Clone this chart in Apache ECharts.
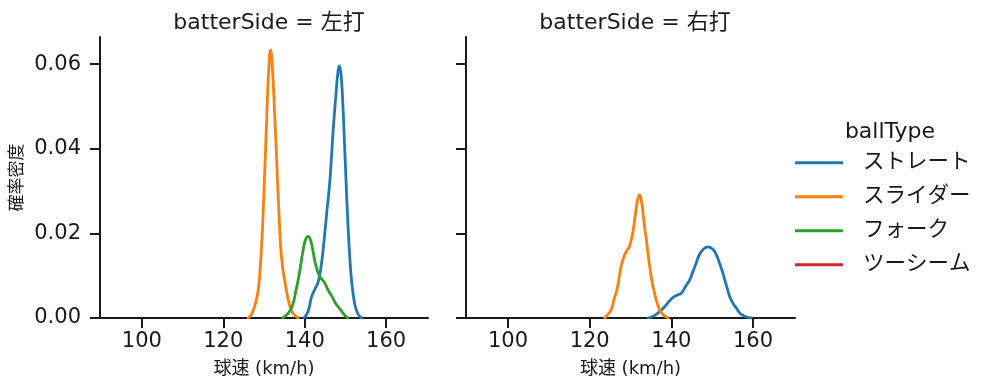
<!DOCTYPE html>
<html>
<head>
<meta charset="utf-8">
<script src="https://cdn.jsdelivr.net/npm/echarts@6/dist/echarts.min.js"></script>
<style>
html,body{margin:0;padding:0;background:#fff;}
#c{width:995px;height:391px;}
</style>
</head>
<body>
<div id="c"></div>
<script>
// ---- data ----
var ballTypes = ['ストレート', 'スライダー', 'フォーク', 'ツーシーム'];
var colors = ['#1f77b4', '#ff7f0e', '#2ca02c', '#d62728'];
var facets = ['batterSide = 左打', 'batterSide = 右打'];
var legendTitle = 'ballType';
var xName = '球速 (km/h)';
var yName = '確率密度';
var xTicks = [100, 120, 140, 160];
var yTicks = [0, 0.02, 0.04, 0.06];

// 左打
var leftStraight = [[139.8,0],[140.8,0.0015],[141.7,0.005],[142.5,0.0068],[143.3,0.0085],[144.0,0.012],[144.6,0.0168],[145.4,0.0247],[146.2,0.0326],[147.0,0.0444],[147.7,0.0530],[148.1,0.0575],[148.5,0.0596],[148.9,0.0578],[149.3,0.052],[149.9,0.0385],[150.3,0.029],[150.7,0.0208],[151.1,0.014],[151.5,0.009],[152.0,0.005],[152.5,0.0025],[153.2,0.0008],[154.0,0]];
var leftSlider = [[126.1,0],[126.8,0.0007],[127.4,0.0019],[128.0,0.0038],[128.6,0.0068],[129.0,0.011],[129.4,0.0168],[129.8,0.025],[130.1,0.0326],[130.4,0.040],[130.7,0.0484],[131.1,0.0575],[131.6,0.0633],[132.1,0.0585],[132.6,0.0484],[133.0,0.040],[133.3,0.0326],[133.7,0.0245],[134.1,0.0168],[134.6,0.0118],[135.2,0.0082],[135.8,0.005],[136.4,0.0027],[137.2,0.001],[138.4,0]];
var leftFork = [[134.6,0],[135.8,0.001],[136.9,0.0027],[137.9,0.0067],[138.6,0.010],[139.1,0.013],[139.7,0.0165],[140.2,0.0185],[140.8,0.0193],[141.4,0.0185],[142.0,0.016],[142.6,0.013],[143.6,0.010],[144.9,0.0083],[145.8,0.0065],[146.7,0.0051],[147.7,0.0033],[148.8,0.002],[149.7,0.0008],[150.6,0]];
var leftTwoSeam = [];

// 右打
var rightStraight = [[134.3,0],[135.7,0.0005],[137.1,0.0015],[138.4,0.0027],[139.7,0.0042],[140.8,0.0051],[141.7,0.0055],[142.5,0.0059],[143.5,0.0075],[144.5,0.009],[145.3,0.011],[146.1,0.013],[146.9,0.015],[147.9,0.0163],[149.0,0.0168],[150.1,0.0163],[151.0,0.015],[151.8,0.013],[152.5,0.011],[153.1,0.009],[153.7,0.007],[154.3,0.0051],[155.1,0.0035],[155.9,0.0024],[157.2,0.0008],[159.6,0]];
var rightSlider = [[123.7,0],[124.6,0.001],[125.3,0.002],[126.0,0.0045],[126.7,0.0067],[127.2,0.0095],[127.7,0.0122],[128.3,0.0142],[129.0,0.0158],[129.7,0.0168],[130.2,0.0185],[130.7,0.021],[131.2,0.0245],[131.7,0.0278],[132.2,0.0291],[132.7,0.0275],[133.1,0.0245],[133.5,0.021],[133.9,0.0185],[134.3,0.015],[134.7,0.0122],[135.2,0.009],[135.7,0.0067],[136.4,0.004],[137.1,0.002],[138.1,0.0007],[139.2,0]];
var rightFork = [];
var rightTwoSeam = [];

var panelData = [
  [leftStraight, leftSlider, leftFork, leftTwoSeam],
  [rightStraight, rightSlider, rightFork, rightTwoSeam]
];

// ---- chart ----
var FONT = '"DejaVu Sans", "Noto Sans CJK JP", sans-serif';
var AX = '#1a1a1a';
var chart = echarts.init(document.getElementById('c'), null, {renderer: 'canvas'});

var grids = [
  {left: 100, top: 37, width: 328, height: 281},
  {left: 466, top: 37, width: 329, height: 281}
];

var xAxes = [], yAxes = [], series = [];
for (var g = 0; g < 2; g++) {
  xAxes.push({
    type: 'value', gridIndex: g, min: 89.7, max: 170.3,
    axisLine: {show: true, lineStyle: {color: AX, width: 2}},
    axisTick: {show: true, customValues: xTicks, length: 10, lineStyle: {color: AX, width: 2}},
    axisLabel: {customValues: xTicks, fontSize: 21, color: AX, margin: 13, fontFamily: FONT},
    splitLine: {show: false},
    name: xName, nameLocation: 'middle', nameGap: 42,
    nameTextStyle: {fontSize: 18, color: AX, fontFamily: FONT}
  });
  yAxes.push({
    type: 'value', gridIndex: g, min: 0, max: 0.0664,
    axisLine: {show: true, lineStyle: {color: AX, width: 2}},
    axisTick: {show: true, customValues: yTicks, length: 10, lineStyle: {color: AX, width: 2}},
    axisLabel: {show: g === 0, customValues: yTicks, fontSize: 21, color: AX, margin: 19, fontFamily: FONT,
      formatter: function (v) { return v.toFixed(2); }},
    splitLine: {show: false},
    name: g === 0 ? yName : '', nameLocation: 'middle', nameGap: 74,
    nameTextStyle: {fontSize: 17, color: AX, fontFamily: FONT}
  });
  for (var s = 0; s < ballTypes.length; s++) {
    series.push({
      type: 'line', name: ballTypes[s], xAxisIndex: g, yAxisIndex: g,
      data: panelData[g][s], smooth: 0.5,
      showSymbol: false, symbol: 'none',
      lineStyle: {color: colors[s], width: 2.8, join: 'round', cap: 'round'},
      itemStyle: {color: colors[s]},
      z: 2 + s
    });
  }
}

chart.setOption({
  animation: false,
  color: colors,
  grid: grids,
  xAxis: xAxes,
  yAxis: yAxes,
  title: [
    {text: facets[0], left: 264, top: 7, textAlign: 'center',
      textStyle: {fontSize: 22, fontWeight: 'normal', color: AX, fontFamily: FONT}},
    {text: facets[1], left: 630, top: 7, textAlign: 'center',
      textStyle: {fontSize: 22, fontWeight: 'normal', color: AX, fontFamily: FONT}},
    {text: legendTitle, left: 885, top: 116, textAlign: 'center',
      textStyle: {fontSize: 22, fontWeight: 'normal', color: AX, fontFamily: FONT}}
  ],
  legend: {
    data: ballTypes, orient: 'vertical', left: 795, top: 152, padding: 0,
    icon: 'rect', itemWidth: 48, itemHeight: 3, itemGap: 12.5,
    textStyle: {fontSize: 21.5, color: AX, fontFamily: FONT, lineHeight: 20, padding: [0, 0, 0, 15]},
    selectedMode: false
  },
  series: series
});
</script>
</body>
</html>
